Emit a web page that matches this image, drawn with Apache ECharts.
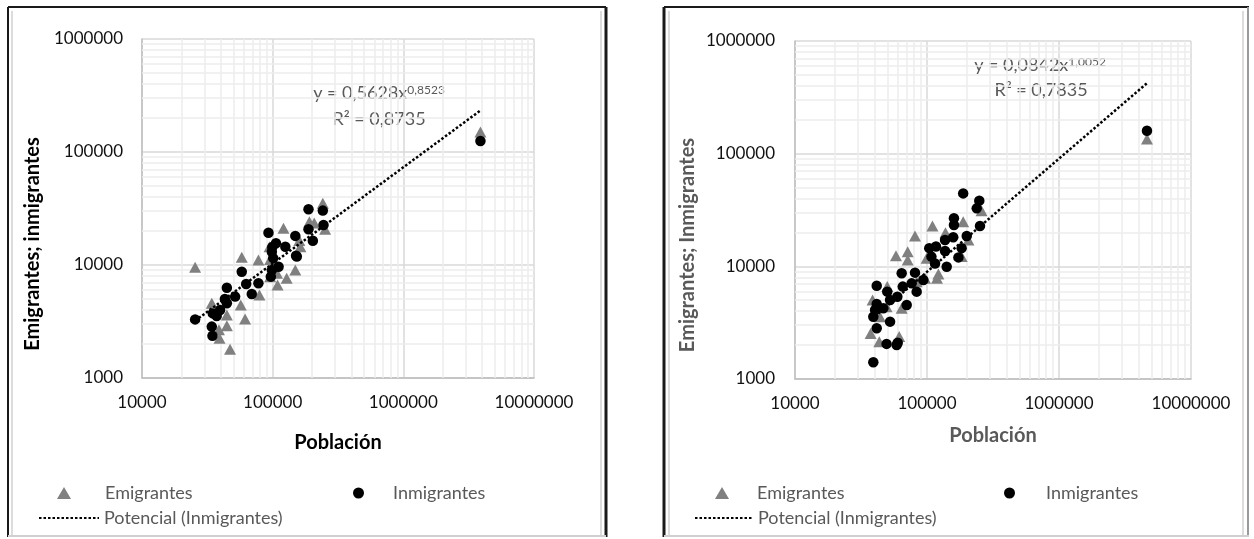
<!DOCTYPE html>
<html>
<head>
<meta charset="utf-8">
<script src="https://cdn.jsdelivr.net/npm/echarts@6/dist/echarts.min.js"></script>
<style>
html, body { margin: 0; padding: 0; background: #fff; }
#chart { width: 1254px; height: 539px; }
</style>
</head>
<body>
<div id="chart"></div>
<script>
// datos: [poblacion, personas]
var leftEmigrantes = [
    [25500, 9530], [242000, 35200], [191000, 24200], [208000, 23500], [121000, 21100],
    [252000, 20700], [163000, 14500], [94700, 14500], [58000, 11700], [77800, 11100],
    [95700, 11200], [149000, 9040], [128000, 7620], [109000, 6650], [79200, 5430],
    [57000, 4430], [34200, 4580], [44600, 3610], [61500, 3330], [44600, 2900],
    [39200, 2250], [47200, 1800], [95700, 7890], [108000, 8440], [38800, 2670],
    [160000, 16500], [3890000, 150000]
];
var leftInmigrantes = [
    [25500, 3300], [188000, 31100], [242000, 30300], [245000, 22600], [188000, 20700],
    [203000, 16400], [92900, 19300], [149000, 18100], [106000, 15600], [125000, 14500],
    [98600, 13100], [153000, 11900], [101000, 11500], [111000, 9660], [96800, 7890],
    [58000, 8730], [77800, 6890], [62700, 6790], [69200, 5530], [44600, 6300],
    [51600, 5250], [44600, 4580], [39600, 4000], [34800, 3730], [37300, 3540],
    [34200, 2850], [34600, 2360], [98600, 9040], [43100, 5010], [99300, 14400],
    [151000, 12100], [3890000, 125000]
];
var leftTrend = [[25500, 3210], [3890000, 233000]];

var rightEmigrantes = [
    [110000, 22800], [188000, 24900], [81100, 18600], [58200, 12400], [71400, 13500],
    [71400, 11400], [259000, 31200], [138000, 19900], [206000, 17100], [183000, 12200],
    [122000, 8550], [119000, 7820], [96600, 7820], [99400, 11800], [50000, 6610],
    [38700, 5020], [83500, 7310], [64300, 4240], [49400, 4380], [37400, 2540],
    [43500, 2140], [61600, 2380], [44000, 3570], [4640000, 135000]
];
var rightInmigrantes = [
    [188000, 44400], [249000, 38300], [238000, 32700], [160000, 26700], [160000, 23300],
    [252000, 22800], [200000, 18600], [137000, 17100], [158000, 18100], [183000, 14500],
    [173000, 12000], [104000, 14500], [117000, 15000], [137000, 13700], [108000, 12200],
    [115000, 10600], [141000, 9930], [93800, 7570], [81100, 8790], [64300, 8670],
    [65500, 6610], [76500, 7060], [83500, 5960], [59600, 5380], [70200, 4540],
    [41600, 6730], [50000, 5960], [52500, 5020], [41600, 4630], [46700, 4240],
    [40400, 4090], [39200, 3570], [52500, 3230], [41600, 2820], [49400, 2050],
    [58900, 2000], [60000, 2100], [39200, 1410], [4640000, 160000]
];
var rightTrend = [[38000, 3380], [4640000, 422000]];

var xDecades = [10000, 100000, 1000000];
var yDecades = [1000, 10000, 100000];
var minorSteps = [2, 3, 4, 5, 6, 7, 8, 9];

var FONT = 'Lato';
var GRAY = '#595959';

function minorLines(decades, key) {
    var out = [];
    decades.forEach(function (d) {
        minorSteps.forEach(function (k) {
            var item = {};
            item[key] = d * k;
            out.push(item);
        });
    });
    return out;
}

function logAxis(idx, min, max, margin, name, nameColor) {
    return {
        type: 'log',
        logBase: 10,
        gridIndex: idx,
        min: min,
        max: max,
        name: name,
        nameLocation: 'middle',
        nameGap: idx === 0 ? 55 : 47,
        nameTextStyle: { fontFamily: FONT, fontWeight: 'bold', fontSize: 20, color: nameColor },
        axisLine: { show: true, lineStyle: { color: '#bfbfbf', width: 1.5 } },
        axisTick: { show: false },
        axisLabel: {
            margin: margin, fontFamily: FONT, fontSize: 17, color: '#111',
            formatter: function (v) { return String(Math.round(v)); }
        },
        splitLine: { show: true, lineStyle: { color: '#d9d9d9', width: 1.5 } }
    };
}

function panelSeries(idx, emi, inm, trend) {
    return [{
        name: 'grid' + idx,
        type: 'scatter',
        xAxisIndex: idx,
        yAxisIndex: idx,
        data: [],
        silent: true,
        markLine: {
            silent: true,
            z: 1,
            symbol: 'none',
            animation: false,
            label: { show: false },
            lineStyle: { color: '#ececec', width: 1.5, type: 'solid' },
            data: minorLines(xDecades, 'xAxis').concat(minorLines(yDecades, 'yAxis'))
        }
    }, {
        name: 'Emigrantes',
        type: 'scatter',
        xAxisIndex: idx,
        yAxisIndex: idx,
        symbol: 'triangle',
        symbolSize: [12, 11],
        itemStyle: { color: '#808080', opacity: 1 },
        z: 3,
        data: emi
    }, {
        name: 'Inmigrantes',
        type: 'scatter',
        xAxisIndex: idx,
        yAxisIndex: idx,
        symbol: 'circle',
        symbolSize: 10.5,
        itemStyle: { color: '#000', opacity: 1 },
        z: 4,
        data: inm
    }, {
        name: 'Potencial (Inmigrantes)',
        type: 'line',
        xAxisIndex: idx,
        yAxisIndex: idx,
        symbol: 'none',
        z: 5,
        itemStyle: { color: '#000' },
        lineStyle: { color: '#000', width: 2.5, type: [2.5, 2] },
        data: trend
    }];
}

// icono pequeño; el hueco hasta el texto se da con padding del texto
function legendItem(name, left, top, w, h, pad, hideSymbol) {
    var lg = {
        data: [name],
        left: left,
        top: top,
        padding: 0,
        itemWidth: w,
        itemHeight: h,
        selectedMode: false,
        formatter: '{a|{name}}',
        textStyle: {
            fontFamily: FONT, fontSize: 18, color: GRAY,
            rich: { a: { fontFamily: FONT, fontSize: 18, color: GRAY, padding: [0, 0, 0, pad] } }
        }
    };
    if (hideSymbol) {
        lg.itemStyle = { opacity: 0 };
    }
    return lg;
}

function eqText(x, y, base, sup) {
    return {
        type: 'text',
        x: x,
        y: y,
        style: {
            text: '{a|' + base + '}{b|' + sup + '}',
            align: 'center',
            verticalAlign: 'middle',
            rich: {
                a: { fontFamily: FONT, fontSize: 18, fill: GRAY, color: GRAY },
                b: { fontFamily: FONT, fontSize: 12, fill: GRAY, color: GRAY, verticalAlign: 'top' }
            }
        }
    };
}

function plainText(x, y, txt, rot, color, bold, size) {
    return {
        type: 'text',
        x: x,
        y: y,
        rotation: rot,
        style: {
            text: txt, fill: color, align: 'center', verticalAlign: 'middle',
            font: (bold ? 'bold ' : '') + size + 'px ' + FONT
        }
    };
}

function hline(x1, x2, y, color, w) {
    return { type: 'line', shape: { x1: x1, y1: y, x2: x2, y2: y }, style: { stroke: color, lineWidth: w } };
}
function vline(x, y1, y2, color, w) {
    return { type: 'line', shape: { x1: x, y1: y1, x2: x, y2: y2 }, style: { stroke: color, lineWidth: w } };
}

var chart = echarts.init(document.getElementById('chart'));
var option = {
    animation: false,
    backgroundColor: '#fff',
    textStyle: { fontFamily: FONT },
    grid: [
        { left: 142, top: 39, right: 720, bottom: 161 },
        { left: 795, top: 41, right: 63, bottom: 160 }
    ],
    xAxis: [
        logAxis(0, 10000, 10000000, 16, 'Población', '#000'),
        logAxis(1, 10000, 10000000, 16, 'Población', GRAY)
    ],
    yAxis: [
        logAxis(0, 1000, 1000000, 19, '', '#000'),
        logAxis(1, 1000, 1000000, 20, '', GRAY)
    ],
    legend: [
        legendItem('Emigrantes', 57, 484, 14, 12, 29),
        legendItem('Inmigrantes', 353, 484, 11, 11, 24),
        legendItem('Potencial (Inmigrantes)', 38, 509, 60, 12, 0, true),
        legendItem('Emigrantes', 715, 484, 14, 12, 23),
        legendItem('Inmigrantes', 1004, 484, 11, 11, 26),
        legendItem('Potencial (Inmigrantes)', 694, 509, 58, 12, 0, true)
    ],
    graphic: [
        eqText(379, 93, 'y = 0,5628x', '0,8523'),
        eqText(379, 119, 'R² = 0,8735', ''),
        eqText(1040, 65, 'y = 0,0842x', '1,0052'),
        eqText(1041, 90, 'R² = 0,7835', ''),
        plainText(33, 244, 'Emigrantes; inmigrantes', Math.PI / 2, '#000', true, 20),
        plainText(688, 245, 'Emigrantes; Inmigrantes', Math.PI / 2, GRAY, true, 20),
        // marcos
        hline(8, 606, 7, '#1a1a1a', 2),
        vline(8, 7, 537, '#1a1a1a', 2),
        vline(12, 11, 535, '#d0d0d0', 1.5),
        vline(606, 7, 537, '#1a1a1a', 3),
        vline(601, 11, 535, '#d0d0d0', 1.5),
        hline(8, 606, 536, '#d0d0d0', 2),
        hline(664, 1249, 7, '#1a1a1a', 2),
        vline(664, 7, 537, '#1a1a1a', 3),
        vline(669, 11, 535, '#d0d0d0', 1.5),
        vline(1248, 7, 537, '#9a9a9a', 2),
        vline(1243, 11, 535, '#d0d0d0', 1.5),
        hline(664, 1249, 536, '#d0d0d0', 2)
    ],
    series: panelSeries(0, leftEmigrantes, leftInmigrantes, leftTrend)
        .concat(panelSeries(1, rightEmigrantes, rightInmigrantes, rightTrend))
};
chart.setOption(option);
</script>
</body>
</html>
